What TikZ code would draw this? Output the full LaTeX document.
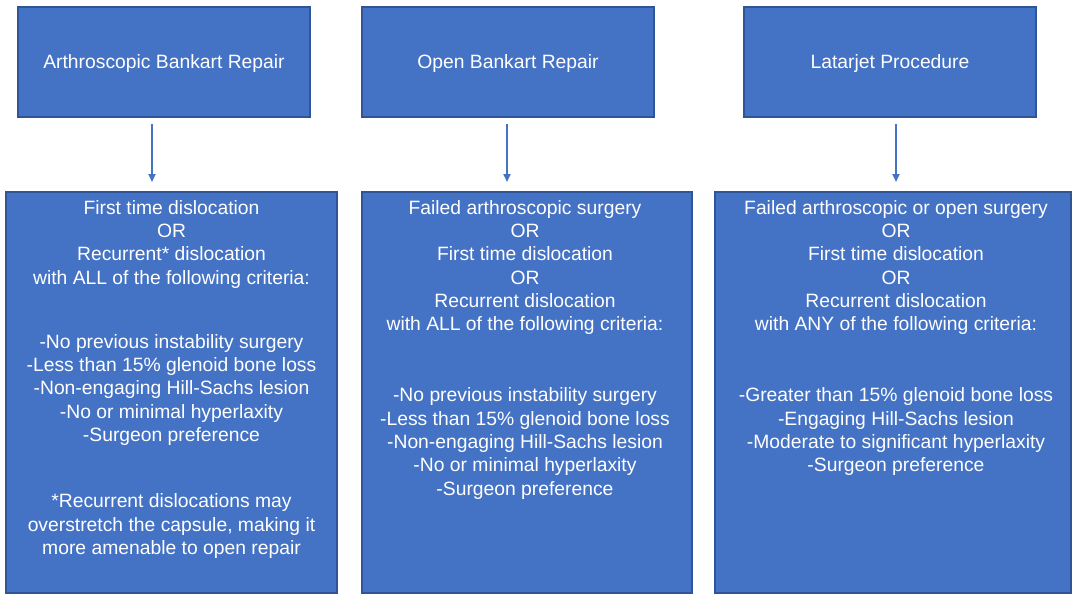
\documentclass[tikz,border=0pt]{standalone}
\usepackage{fontspec}
\setmainfont{Liberation Sans}
\usetikzlibrary{arrows.meta}
\definecolor{boxfill}{HTML}{4472C4}
\definecolor{boxedge}{HTML}{2F5597}
\tikzset{
  box/.style={draw=boxedge, fill=boxfill, line width=2pt, inner sep=0pt, rectangle},
  topbox/.style={box, minimum width=292pt, minimum height=110pt, text=white, text height=14pt, text depth=0pt, font=\fontsize{19.3}{23.3}\selectfont},
  boxtext/.style={text=white, align=center, inner sep=0pt, font=\fontsize{19.3}{23.3}\selectfont},
  conn/.style={draw=boxfill, line width=1.8pt, -{Triangle[width=7pt,length=8pt]}}
}
\begin{document}
\begin{tikzpicture}[x=1pt,y=-1pt]
\useasboundingbox (0,0) rectangle (1073,594);
% top boxes
\node[topbox] (T1) at (164,62) {Arthroscopic Bankart Repair};
\node[topbox] (T2) at (508,62) {Open Bankart Repair};
\node[topbox] (T3) at (890,62) {Latarjet Procedure};
% bottom boxes
\node[box, minimum width=331pt, minimum height=401pt] (B1) at (171.5,392.5) {};
\node[box, minimum width=330pt, minimum height=401pt] (B2) at (527,392.5) {};
\node[box, minimum width=356pt, minimum height=401pt] (B3) at (893,392.5) {};
% connectors
\coordinate (a1s) at (152,124);
\coordinate (a1e) at (152,182);
\coordinate (a2s) at (507,124);
\coordinate (a2e) at (507,182);
\coordinate (a3s) at (896,124);
\coordinate (a3e) at (896,182);
\draw[conn] (a1s) -- (a1e);
\draw[conn] (a2s) -- (a2e);
\draw[conn] (a3s) -- (a3e);
% texts
\node[boxtext, anchor=north] (b1) at (171.5,200) {First time dislocation\\OR\\Recurrent* dislocation\\with ALL of the following criteria:\\[41pt]
-No previous instability surgery\\-Less than 15\% glenoid bone loss\\-Non-engaging Hill-Sachs lesion\\-No or minimal hyperlaxity\\-Surgeon preference\\[43pt]
*Recurrent dislocations may\\overstretch the capsule, making it\\more amenable to open repair};
\node[boxtext, anchor=north] (b2) at (525,200) {Failed arthroscopic surgery\\OR\\First time dislocation\\OR\\Recurrent dislocation\\with ALL of the following criteria:\\[48pt]
-No previous instability surgery\\-Less than 15\% glenoid bone loss\\-Non-engaging Hill-Sachs lesion\\-No or minimal hyperlaxity\\-Surgeon preference};
\node[boxtext, anchor=north] (b3) at (896,200) {Failed arthroscopic or open surgery\\OR\\First time dislocation\\OR\\Recurrent dislocation\\with ANY of the following criteria:\\[48pt]
-Greater than 15\% glenoid bone loss\\-Engaging Hill-Sachs lesion\\-Moderate to significant hyperlaxity\\-Surgeon preference};
\end{tikzpicture}
\end{document}
